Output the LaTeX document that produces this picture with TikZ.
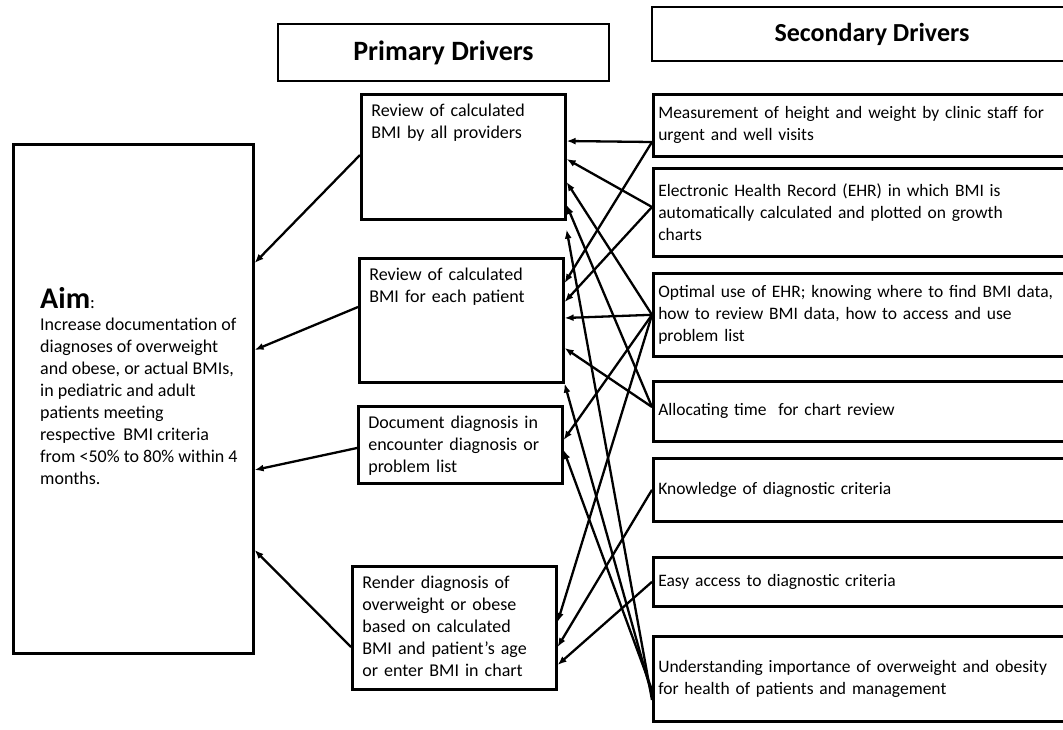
\documentclass[tikz,border=0pt]{standalone}
\usepackage{fontspec}
\setmainfont{Carlito}
\usetikzlibrary{arrows.meta}
\begin{document}
\begin{tikzpicture}[x=1pt, y=-1pt,
  box/.style={draw, line width=2.6pt},
  hdr/.style={box, font=\fontsize{26}{30}\selectfont\bfseries},
  prim/.style={box, anchor=north west, text width=184pt, align=left, inner xsep=10pt, inner ysep=9pt, text height=13pt, text depth=#1, font=\fontsize{18}{22}\selectfont},
  sec/.style={box, anchor=north west, minimum height=#1, text width=430pt, align=left, inner xsep=5pt, font=\fontsize{17.5}{22}\selectfont},
  arr/.style={line width=2.3pt, -{Latex[length=9pt,width=7pt]}}]
  \useasboundingbox (0,0) rectangle (1063,729);
  \node[hdr, minimum width=331pt, minimum height=57pt, font=\fontsize{28}{32}\selectfont\bfseries] (ph) at (443.5,52.5) {Primary Drivers};
  \node[hdr, minimum width=440pt, minimum height=54pt] (sh) at (872,34) {Secondary Drivers};
  \node[box, anchor=north west, minimum width=240pt, minimum height=509pt] (aim) at (12,143) {};
  \node[anchor=north west, align=left, inner sep=0pt, font=\fontsize{18}{22}\selectfont] (aimtxt) at (40,287) {{\fontsize{30}{34}\selectfont\bfseries Aim}:\\Increase documentation of\\diagnoses of overweight\\and obese, or actual BMIs,\\in pediatric and adult\\patients meeting\\respective~ BMI criteria\\from <50\% to 80\% within 4\\months.};
  \node[prim=94pt] (p1) at (360,93) {Review of calculated\\BMI by all providers};
  \node[prim=93pt] (p2) at (358,257) {Review of calculated\\BMI for each patient};
  \node[prim=46pt] (p3) at (357,405) {Document diagnosis in\\encounter diagnosis or\\problem list};
  \node[prim=92pt] (p4) at (351,565) {Render diagnosis of\\overweight or obese\\based on calculated\\BMI and patient’s age\\or enter BMI in chart};
  \node[sec=62pt] (s1) at (652,93) {Measurement of height and weight by clinic staff for\\urgent and well visits};
  \node[sec=88pt] (s2) at (652,167) {Electronic Health Record (EHR) in which BMI is\\automatically calculated and plotted on growth\\charts};
  \node[sec=83pt] (s3) at (652,272) {Optimal use of EHR; knowing where to find BMI data,\\how to review BMI data, how to access and use\\problem list};
  \node[sec=60pt] (s4) at (652,380) {Allocating time~ for chart review};
  \node[sec=63pt] (s5) at (652,457) {Knowledge of diagnostic criteria};
  \node[sec=49pt] (s6) at (652,556) {Easy access to diagnostic criteria};
  \node[sec=85pt] (s7) at (652,635) {Understanding importance of overweight and obesity\\for health of patients and management};
  \draw[arr] ([yshift=-49pt]s1.north west) -- ([yshift=-48pt]p1.north east);
  \draw[arr] ([yshift=-49pt]s1.north west) -- ([yshift=-26pt]p2.north east);
  \draw[arr] ([yshift=-40pt]s2.north west) -- ([yshift=-66pt]p1.north east);
  \draw[arr] ([yshift=-40pt]s2.north west) -- ([yshift=-45pt]p2.north east);
  \draw[arr] (s3.west) -- ([yshift=-89pt]p1.north east);
  \draw[arr] (s3.west) -- ([yshift=-61pt]p2.north east);
  \draw[arr] (s3.west) -- ([yshift=-35pt]p3.north east);
  \draw[arr] (s3.west) -- ([yshift=-57pt]p4.north east);
  \draw[arr] ([yshift=-27pt]s4.north west) -- ([yshift=-112pt]p1.north east);
  \draw[arr] ([yshift=-27pt]s4.north west) -- ([yshift=-91pt]p2.north east);
  \draw[arr] (s5.west) -- ([yshift=-82pt]p4.north east);
  \draw[arr] (s6.west) -- ([yshift=-100pt]p4.north east);
  \draw[arr] ([yshift=-65pt]s7.north west) -- ([yshift=-9pt]p1.south east);
  \draw[arr] ([yshift=-60pt]s7.north west) -- (p2.south east);
  \draw[arr] ([yshift=-55pt]s7.north west) -- ([yshift=-45pt]p3.north east);
  \draw[arr] ([yshift=-62pt]p1.north west) -- ([yshift=-120pt]aim.north east);
  \draw[arr] ([yshift=-50pt]p2.north west) -- ([yshift=-207pt]aim.north east);
  \draw[arr] ([yshift=-43pt]p3.north west) -- ([yshift=-327pt]aim.north east);
  \draw[arr] ([yshift=-82pt]p4.north west) -- ([yshift=-407pt]aim.north east);
\end{tikzpicture}
\end{document}
